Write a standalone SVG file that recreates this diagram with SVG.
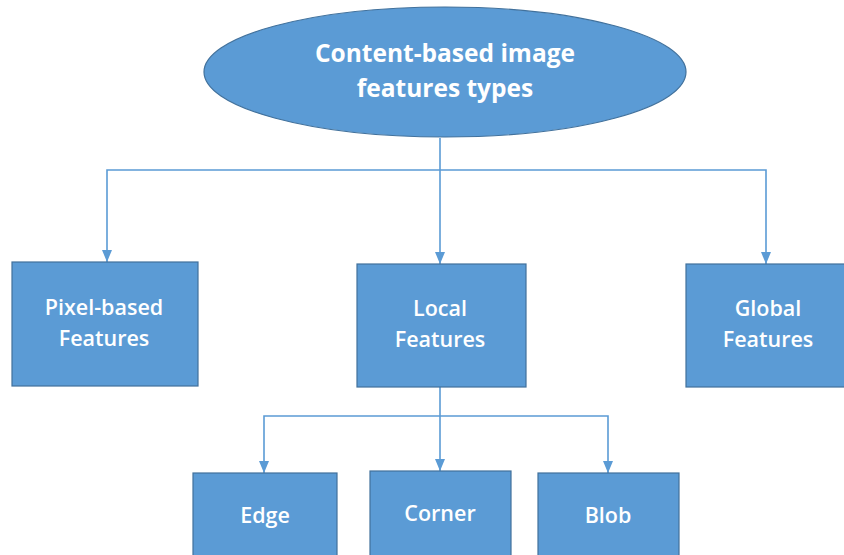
<svg xmlns="http://www.w3.org/2000/svg" width="844" height="555" viewBox="0 0 844 555">
<style>
.node{fill:#5B9BD5;stroke:#41719C;stroke-width:1.2}
.t{font-family:"Open Sans","Noto Sans",sans-serif;fill:#FFFFFF;text-anchor:middle}
.lbl{font-size:21.5px;font-weight:600}
.title{font-size:24.5px;font-weight:700}
.c{fill:none;stroke:#5B9BD5;stroke-width:1.6}
</style>
<defs>
<marker id="ah" viewBox="0 0 12 10" refX="12" refY="5" markerWidth="12" markerHeight="10" markerUnits="userSpaceOnUse" orient="auto">
<path d="M0,0 L12,5 L0,10 Z" fill="#5B9BD5"/>
</marker>
</defs>
<rect width="844" height="555" fill="#FFFFFF"/>
<g id="connectors">
<path class="c" d="M440,138 V170"/>
<path class="c" d="M440,170 H107 V262" marker-end="url(#ah)"/>
<path class="c" d="M440,170 V264" marker-end="url(#ah)"/>
<path class="c" d="M440,170 H766 V264" marker-end="url(#ah)"/>
<path class="c" d="M440,387 V416"/>
<path class="c" d="M440,416 H264 V473" marker-end="url(#ah)"/>
<path class="c" d="M440,416 V471" marker-end="url(#ah)"/>
<path class="c" d="M440,416 H608 V473" marker-end="url(#ah)"/>
</g>
<g id="root">
<ellipse class="node" cx="445" cy="72" rx="241" ry="65"/>
<text class="t title" x="445" y="62">Content-based image</text>
<text class="t title" x="445" y="97">features types</text>
</g>
<g id="pixel">
<rect class="node" x="12" y="262" width="186" height="124"/>
<text class="t lbl" x="104" y="315">Pixel-based</text>
<text class="t lbl" x="104" y="346">Features</text>
</g>
<g id="local">
<rect class="node" x="357" y="264" width="169" height="123"/>
<text class="t lbl" x="440" y="316">Local</text>
<text class="t lbl" x="440" y="347">Features</text>
</g>
<g id="global">
<rect class="node" x="686" y="264" width="160" height="123"/>
<text class="t lbl" x="768" y="316">Global</text>
<text class="t lbl" x="768" y="347">Features</text>
</g>
<g id="edge">
<rect class="node" x="193" y="473" width="144" height="90"/>
<text class="t lbl" x="265" y="523">Edge</text>
</g>
<g id="corner">
<rect class="node" x="370" y="471" width="141" height="92"/>
<text class="t lbl" x="440" y="521">Corner</text>
</g>
<g id="blob">
<rect class="node" x="538" y="473" width="141" height="90"/>
<text class="t lbl" x="608" y="523">Blob</text>
</g>
</svg>
